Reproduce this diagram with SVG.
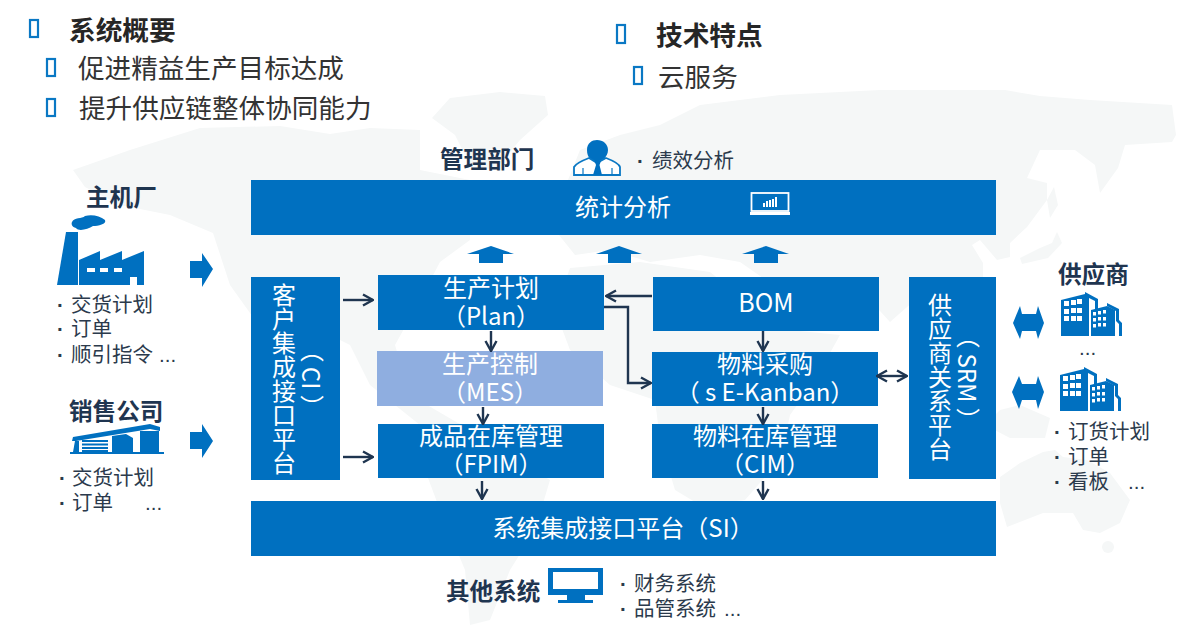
<svg xmlns="http://www.w3.org/2000/svg" width="1197" height="637" viewBox="0 0 1197 637">
<style>
text{font-family:"Liberation Sans","Noto Sans CJK SC",sans-serif;fill:#333}
.h{font-size:26.7px;font-weight:700;fill:#262626}
.t{font-size:26.6px;fill:#333}
.g{font-size:23.6px;font-weight:700;fill:#1f3550}
.s{font-size:20.5px;fill:#2b3a4c}
.w{fill:#fff;font-size:24px;text-anchor:middle;font-family:"Noto Sans CJK SC","Noto Sans",sans-serif}
.v{writing-mode:vertical-rl}
.b{fill:#0070c0}
.k{fill:none;stroke:#0a78c4;stroke-width:2.2}
.c{fill:none;stroke:#1f3550;stroke-width:2.4}
.map{fill:#f5f7f7}
.d{font-weight:700}
</style>
<defs>
<marker id="a" viewBox="0 0 13 14" refX="12" refY="7" markerWidth="13" markerHeight="14" markerUnits="userSpaceOnUse" orient="auto-start-reverse"><path d="M2 1.5L12 7L2 12.5" fill="none" stroke="#1f3550" stroke-width="2.4"/></marker>
<g id="bld">
<path class="b" d="M0 0V-36L24 -42L28 -40V0Z"/>
<path class="b" d="M24 -44L37 -37V-27L34 -26V-35L24 -40Z"/>
<path class="b" d="M30 0V-26L46 -30L54 -26V0Z"/>
<path class="b" d="M46 -33L58 -27V-16L61 -13V0H58V-12L55 -15V-25L46 -30Z"/>
<g fill="#fff">
<rect x="3" y="-35" width="5" height="5"/><rect x="10" y="-36" width="5" height="5"/><rect x="16" y="-37" width="5" height="5"/>
<rect x="3" y="-27" width="5" height="5"/><rect x="10" y="-28" width="5" height="5"/><rect x="16" y="-28" width="5" height="5"/>
<rect x="3" y="-20" width="5" height="5"/><rect x="10" y="-20" width="5" height="5"/><rect x="16" y="-20" width="5" height="5"/>
<rect x="32" y="-24" width="3" height="3.5"/><rect x="37" y="-25" width="3" height="3.5"/><rect x="42" y="-26" width="3" height="3.5"/>
<rect x="32" y="-18" width="3" height="3.5"/><rect x="37" y="-19" width="3" height="3.5"/><rect x="42" y="-19" width="3" height="3.5"/>
<rect x="32" y="-12" width="3" height="3.5"/><rect x="37" y="-13" width="3" height="3.5"/><rect x="42" y="-13" width="3" height="3.5"/>
</g></g>
</defs>

<g id="worldmap">
<path class="map" d="M73 170L130 150L200 128L280 126L330 134L370 128L420 130L420 170L470 180L470 240L440 262L420 300L395 345L410 395L470 430L420 425L370 385L350 345L300 320L255 320L230 285L213 233L170 215L120 205L85 187Z"/>
<path class="map" d="M432 118L450 98L500 92L545 96L548 115L520 140L495 170L470 165L455 135Z"/>
<path class="map" d="M440 440L495 450L550 480L535 530L510 570L490 620L470 625L465 570L440 510L425 470Z"/>
<path class="map" d="M560 200L580 150L620 135L660 125L700 105L780 95L880 90L1005 90L1040 96L1090 100L1172 105L1176 135L1172 142L1125 145L1118 168L1100 193L1095 165L1075 150L1040 150L1027 178L1047 183L1047 200L1027 227L1010 243L1010 257L997 260L980 240L972 245L983 263L983 277L960 290L950 330L935 345L915 300L890 322L870 300L840 290L800 280L780 290L740 262L700 255L650 262L610 250L575 255L555 230Z"/>
<path class="map" d="M1054 187L1058 205L1050 218L1047 200Z"/>
<path class="map" d="M1057 232L1062 243L1048 258L1022 264L1020 258L1040 248L1052 243Z"/>
<path class="map" d="M570 268L640 262L710 272L745 300L790 330L840 335L815 380L790 415L780 460L745 500L700 505L675 490L660 440L655 400L610 385L570 350L555 310Z"/>
<path class="map" d="M835 430L845 445L830 475L822 465Z"/>
<path class="map" d="M1000 410L1020 405L1050 418L1045 438L1010 438L985 425Z"/>
<path class="map" d="M1000 477L1020 463L1043 452L1055 450L1063 457L1087 460L1110 473L1130 500L1120 523L1100 533L1083 530L1073 513L1043 513L1007 527L1000 503Z"/>
<circle class="map" cx="1108" cy="547" r="6"/>
</g>

<g id="overview">
<rect class="k" x="30" y="20" width="8" height="17"/>
<text class="h" x="69" y="40">系统概要</text>
<rect class="k" x="47" y="59" width="8" height="17"/>
<text class="t" x="78" y="78">促进精益生产目标达成</text>
<rect class="k" x="47" y="99" width="8" height="17"/>
<text class="t" x="79" y="118">提升供应链整体协同能力</text>
</g>
<g id="features">
<rect class="k" x="617" y="25" width="8" height="18"/>
<text class="h" x="656" y="45">技术特点</text>
<rect class="k" x="634" y="67" width="8" height="17"/>
<text class="t" x="658" y="87">云服务</text>
</g>

<g id="mgmt">
<text class="g" x="440" y="168">管理部门</text>
<path class="b" d="M587 150C587 143 592 140 597 140C603 140 608 144 608 150C608 154 606 156 604 159L597 163L590 159C588 156 587 154 587 150Z"/>
<path d="M574 175V167Q576 163 589 158L597 163L606 158Q619 163 620 167V175Z" fill="#fff" stroke="#0a78c4" stroke-width="1.8"/>
<path class="b" d="M594.500 161H601L599.500 165L602 175H593L596 165Z"/>
<path d="M583 168V175M612 168V175" stroke="#0a78c4" stroke-width="1.2"/>
<text class="s" x="637" y="168"><tspan class="d">·</tspan><tspan x="652">绩效分析</tspan></text>
</g>

<g id="stat">
<rect class="b" x="251" y="180" width="745" height="55"/>
<text class="w" x="623" y="216">统计分析</text>
<rect x="751.500" y="193" width="37" height="18" fill="none" stroke="#fff" stroke-width="1.8"/>
<rect x="750" y="212" width="40" height="3" fill="#fff"/>
<path d="M763 203h2v4h-2zM766 201h2v6h-2zM769 200h2v7h-2zM772 199h2v8h-2zM775 197h2v10h-2z" fill="#fff"/>
</g>

<g id="oem">
<text class="g" x="86" y="206">主机厂</text>
<path class="b" d="M72 222C74 217 82 219 85 216C92 214 100 216 105 220C107 224 98 226 93 226C88 229 79 232 76 228C72 227 71 224 72 222Z"/>
<path class="b" d="M66 232H78V285H57Z"/>
<path class="b" d="M79 260L100 251V260L122 251V260L144 251V285H137V277H130V285H79Z"/>
<path d="M87 268h8v4h-8zM100 268h8v4h-8zM114 268h8v4h-8z" fill="#fff"/>
<text class="s" x="57" y="312"><tspan class="d">·</tspan><tspan x="71">交货计划</tspan></text>
<text class="s" x="57" y="336"><tspan class="d">·</tspan><tspan x="71">订单</tspan></text>
<text class="s" x="57" y="362"><tspan class="d">·</tspan><tspan x="71">顺引指令</tspan><tspan x="159">...</tspan></text>
</g>
<g id="sales">
<text class="g" x="69" y="420">销售公司</text>
<path class="b" d="M70 452H164V454H70Z"/>
<path class="b" d="M72 441L73 437L150 424L160 427V431L150 429L76 441Z"/>
<path class="b" d="M73 452L75 441H79V452Z"/>
<path class="b" d="M112 436L126 434L133 438V452H112Z"/>
<path class="b" d="M140 431L159 431V452H140Z"/>
<path d="M82 441H108M82 444.500H108M82 448H108M82 451H108" stroke="#0070c0" stroke-width="1.8"/>
<text class="s" x="59" y="485"><tspan class="d">·</tspan><tspan x="72">交货计划</tspan></text>
<text class="s" x="59" y="510"><tspan class="d">·</tspan><tspan x="72">订单</tspan><tspan x="145">...</tspan></text>
</g>

<g id="flow-arrows">
<path class="b" d="M190 261H202V253L213 269L202 287V278H190Z"/>
<path class="b" d="M190 432H202V424L213 441L202 458V449H190Z"/>
<path class="b" d="M467 254L491 246L514 254H503V263H479V254Z"/>
<path class="b" d="M596 254L619 246L642 254H631V263H608V254Z"/>
<path class="b" d="M742 254L766 246L789 254H778V263H754V254Z"/>
<path class="b" d="M1013 323L1020 306L1022 314H1036L1038 306L1044 323L1038 339L1036 331H1022L1020 339Z"/>
<path class="b" d="M1012 392L1019 376L1022 384H1036L1038 376L1044 392L1038 409L1036 400H1022L1019 409Z"/>
</g>

<g id="ci">
<rect class="b" x="251" y="277" width="89" height="203"/>
<text class="w v" x="284" y="379" dominant-baseline="central">客户集成接口平台</text>
<text class="w v" x="312" y="378" dominant-baseline="central">（ CI ）</text>
</g>
<g id="plan"><rect class="b" x="378" y="275" width="226" height="55"/><text class="w" x="491" y="297">生产计划</text><text class="w" x="491" y="325">（Plan）</text></g>
<g id="mes"><rect x="377" y="351" width="226" height="55" fill="#8faee0"/><text class="w" x="490" y="373">生产控制</text><text class="w" x="490" y="401">（MES）</text></g>
<g id="fpim"><rect class="b" x="378" y="424" width="226" height="54"/><text class="w" x="491" y="445">成品在库管理</text><text class="w" x="491" y="473">（FPIM）</text></g>
<g id="bom"><rect class="b" x="653" y="277" width="226" height="54"/><text class="w" x="766" y="312" style="font-size:25px">BOM</text></g>
<g id="purchase"><rect class="b" x="652" y="352" width="226" height="54"/><text class="w" x="765" y="373">物料采购</text><text class="w" x="765" y="401">（ s E-Kanban）</text></g>
<g id="cim"><rect class="b" x="652" y="424" width="226" height="54"/><text class="w" x="765" y="445">物料在库管理</text><text class="w" x="765" y="473">（CIM）</text></g>
<g id="srm">
<rect class="b" x="909" y="277" width="87" height="202"/>
<text class="w v" x="940" y="377" dominant-baseline="central">供应商关系平台</text>
<text class="w v" x="968" y="378" dominant-baseline="central">（ SRM ）</text>
</g>
<g id="si"><rect class="b" x="251" y="501" width="745" height="55"/><text class="w" x="623" y="537">系统集成接口平台（SI）</text></g>

<g id="connectors">
<path class="c" d="M343 300H373" marker-end="url(#a)"/>
<path class="c" d="M343 457H373" marker-end="url(#a)"/>
<path class="c" d="M491 331V351" marker-end="url(#a)"/>
<path class="c" d="M483 407V424" marker-end="url(#a)"/>
<path class="c" d="M482 481V499" marker-end="url(#a)"/>
<path class="c" d="M652 296H606" marker-end="url(#a)"/>
<path class="c" d="M604 307H628V383H651" marker-end="url(#a)"/>
<path class="c" d="M763 331V351" marker-end="url(#a)"/>
<path class="c" d="M763 407V424" marker-end="url(#a)"/>
<path class="c" d="M763 481V499" marker-end="url(#a)"/>
<path class="c" d="M877 376H907" marker-start="url(#a)" marker-end="url(#a)"/>
</g>

<g id="supplier">
<text class="g" x="1058" y="283">供应商</text>
<use href="#bld" x="1061" y="336"/>
<text class="s" x="1079" y="355">...</text>
<use href="#bld" x="1060" y="411"/>
<text class="s" x="1054" y="439"><tspan class="d">·</tspan><tspan x="1068">订货计划</tspan></text>
<text class="s" x="1054" y="464"><tspan class="d">·</tspan><tspan x="1068">订单</tspan></text>
<text class="s" x="1054" y="489"><tspan class="d">·</tspan><tspan x="1068">看板</tspan><tspan x="1128">...</tspan></text>
</g>

<g id="others">
<text class="g" x="446" y="600">其他系统</text>
<path class="b" fill-rule="evenodd" d="M548 568H603V595H585V600H593V603H558V600H567V595H548ZM553 572V589H598V572Z"/>
<text class="s" x="620" y="591"><tspan class="d">·</tspan><tspan x="634">财务系统</tspan></text>
<text class="s" x="620" y="616"><tspan class="d">·</tspan><tspan x="634">品管系统</tspan><tspan x="724">...</tspan></text>
</g>
</svg>
